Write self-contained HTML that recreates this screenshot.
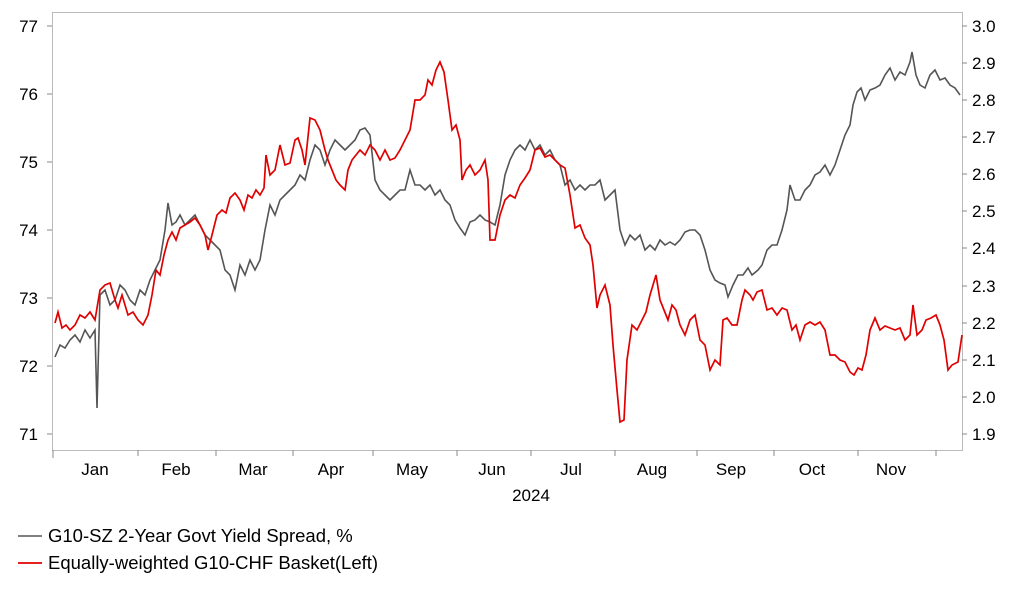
<!DOCTYPE html>
<html><head><style>
body{margin:0;background:#fff;}
svg text{font-family:"Liberation Sans",Arial,sans-serif;fill:#000;}
</style></head><body>
<svg width="1022" height="597" viewBox="0 0 1022 597" xmlns="http://www.w3.org/2000/svg">
<rect x="52.5" y="12.5" width="910" height="438" fill="none" stroke="#bbb" stroke-width="1"/>
<g stroke="#888" stroke-width="1">
<line x1="47" y1="26" x2="52" y2="26"/><line x1="47" y1="94" x2="52" y2="94"/><line x1="47" y1="162" x2="52" y2="162"/><line x1="47" y1="230" x2="52" y2="230"/><line x1="47" y1="298" x2="52" y2="298"/><line x1="47" y1="366" x2="52" y2="366"/><line x1="47" y1="434" x2="52" y2="434"/>
<line x1="962" y1="26" x2="967" y2="26"/><line x1="962" y1="63" x2="967" y2="63"/><line x1="962" y1="100" x2="967" y2="100"/><line x1="962" y1="137" x2="967" y2="137"/><line x1="962" y1="174" x2="967" y2="174"/><line x1="962" y1="211" x2="967" y2="211"/><line x1="962" y1="248" x2="967" y2="248"/><line x1="962" y1="286" x2="967" y2="286"/><line x1="962" y1="323" x2="967" y2="323"/><line x1="962" y1="360" x2="967" y2="360"/><line x1="962" y1="397" x2="967" y2="397"/><line x1="962" y1="434" x2="967" y2="434"/>
<line x1="53" y1="450" x2="53" y2="458"/><line x1="138" y1="450" x2="138" y2="456"/><line x1="216" y1="450" x2="216" y2="456"/><line x1="293" y1="450" x2="293" y2="456"/><line x1="373" y1="450" x2="373" y2="456"/><line x1="457" y1="450" x2="457" y2="456"/><line x1="531" y1="450" x2="531" y2="456"/><line x1="615" y1="450" x2="615" y2="456"/><line x1="697" y1="450" x2="697" y2="456"/><line x1="774" y1="450" x2="774" y2="456"/><line x1="858" y1="450" x2="858" y2="456"/><line x1="936" y1="450" x2="936" y2="456"/>
</g>
<g font-size="17" text-anchor="end">
<text x="38" y="32">77</text><text x="38" y="100">76</text><text x="38" y="168">75</text><text x="38" y="236">74</text><text x="38" y="304">73</text><text x="38" y="372">72</text><text x="38" y="440">71</text>
</g>
<g font-size="17">
<text x="972" y="32">3.0</text><text x="972" y="69">2.9</text><text x="972" y="106">2.8</text><text x="972" y="143">2.7</text><text x="972" y="180">2.6</text><text x="972" y="217">2.5</text><text x="972" y="254">2.4</text><text x="972" y="292">2.3</text><text x="972" y="329">2.2</text><text x="972" y="366">2.1</text><text x="972" y="403">2.0</text><text x="972" y="440">1.9</text>
</g>
<g font-size="17" text-anchor="middle">
<text x="95" y="475">Jan</text><text x="176" y="475">Feb</text><text x="253" y="475">Mar</text><text x="331" y="475">Apr</text><text x="412" y="475">May</text><text x="492" y="475">Jun</text><text x="571" y="475">Jul</text><text x="652" y="475">Aug</text><text x="731" y="475">Sep</text><text x="812" y="475">Oct</text><text x="891" y="475">Nov</text>
<text x="531" y="501">2024</text>
</g>
<polyline fill="none" stroke="#555" stroke-width="1.6" points="55,357 60,345 65,348 70,340 75,335 80,342 85,330 90,338 95,330 97,408 100,295 105,290 110,305 115,300 120,285 125,290 130,300 135,305 140,290 145,295 150,280 155,270 160,260 165,230 168,203 172,225 176,222 180,215 185,225 190,220 195,215 200,225 205,235 210,240 215,245 220,250 225,270 230,275 235,290 240,265 245,275 250,260 255,270 260,260 265,230 270,205 275,215 280,200 285,195 290,190 295,185 300,175 305,180 310,160 315,145 320,150 325,165 330,150 335,140 340,145 345,150 350,145 355,140 360,130 365,128 370,135 375,180 380,190 385,195 390,200 395,195 400,190 405,190 410,170 415,185 420,185 425,190 430,185 435,195 440,190 445,200 450,205 455,220 460,228 465,235 470,222 475,220 480,215 485,220 490,222 495,225 500,205 505,175 510,160 515,150 520,145 525,150 530,140 535,150 540,145 545,155 550,150 555,160 560,165 565,185 570,180 575,190 580,185 585,190 590,185 595,185 600,180 605,200 610,195 615,190 620,230 625,245 630,235 635,240 640,235 645,250 650,245 655,250 660,240 665,245 670,242 675,245 680,240 685,232 690,230 695,230 700,235 705,250 710,270 715,280 720,283 725,285 728,297 733,285 738,275 743,275 748,268 752,275 758,270 762,265 767,250 772,245 777,245 782,230 787,210 790,185 795,200 800,200 805,190 810,185 815,175 820,172 825,165 830,175 835,165 840,150 845,135 850,125 853,105 857,92 861,88 865,100 870,90 875,88 880,85 885,75 890,68 895,80 900,72 905,75 910,62 912,52 916,75 920,85 925,88 930,75 935,70 940,80 945,78 950,85 955,88 960,95"/>
<polyline fill="none" stroke="#e00000" stroke-width="1.7" points="55,323 58,312 62,328 66,325 70,330 75,325 80,315 85,318 90,312 95,320 100,290 105,285 110,283 115,300 118,308 122,295 128,315 133,312 138,320 143,325 148,315 152,295 156,270 160,275 164,255 168,240 172,232 176,240 180,228 185,225 190,222 195,218 200,225 205,235 208,250 212,235 217,215 222,210 226,213 230,198 235,193 240,200 244,210 248,195 252,198 256,190 260,195 264,188 266,155 270,175 275,170 280,145 285,165 290,163 295,140 298,138 302,150 305,165 310,118 315,120 320,130 325,150 328,160 332,170 336,180 340,185 345,190 348,170 352,160 356,155 360,150 365,155 370,145 375,150 380,160 385,150 390,160 395,158 400,150 405,140 410,130 415,100 420,100 425,95 428,80 432,85 436,70 440,62 444,72 448,100 452,130 456,125 460,140 462,180 466,170 470,165 475,175 480,170 485,160 488,180 490,240 495,240 500,215 505,200 510,195 515,198 520,185 525,178 530,170 535,150 540,148 545,157 550,155 555,160 560,165 565,168 570,195 575,228 580,225 585,238 590,245 593,265 597,308 600,295 605,285 610,305 613,345 617,390 620,422 624,420 627,360 632,325 637,330 642,320 646,312 650,295 653,285 656,275 660,300 664,310 668,320 672,305 676,310 680,325 685,335 690,320 695,315 700,340 705,345 710,370 715,360 720,365 723,320 727,318 732,325 737,325 742,300 745,290 750,295 753,300 757,292 762,290 767,310 772,308 777,315 782,308 787,310 792,330 796,325 800,340 805,325 810,322 815,325 820,322 825,330 830,355 835,355 840,360 845,362 850,372 854,375 858,368 862,370 866,355 870,330 875,318 880,330 885,326 890,328 895,330 900,328 905,340 910,335 913,305 917,335 922,330 926,320 931,318 936,315 940,325 944,340 948,370 952,365 958,362 962,335"/>
<line x1="18" y1="536" x2="42" y2="536" stroke="#555" stroke-width="1.6"/>
<text x="48" y="542" font-size="18.5">G10-SZ 2-Year Govt Yield Spread, %</text>
<line x1="18" y1="563" x2="42" y2="563" stroke="#e00000" stroke-width="1.7"/>
<text x="48" y="569" font-size="18.5">Equally-weighted G10-CHF Basket(Left)</text>
</svg>
</body></html>
